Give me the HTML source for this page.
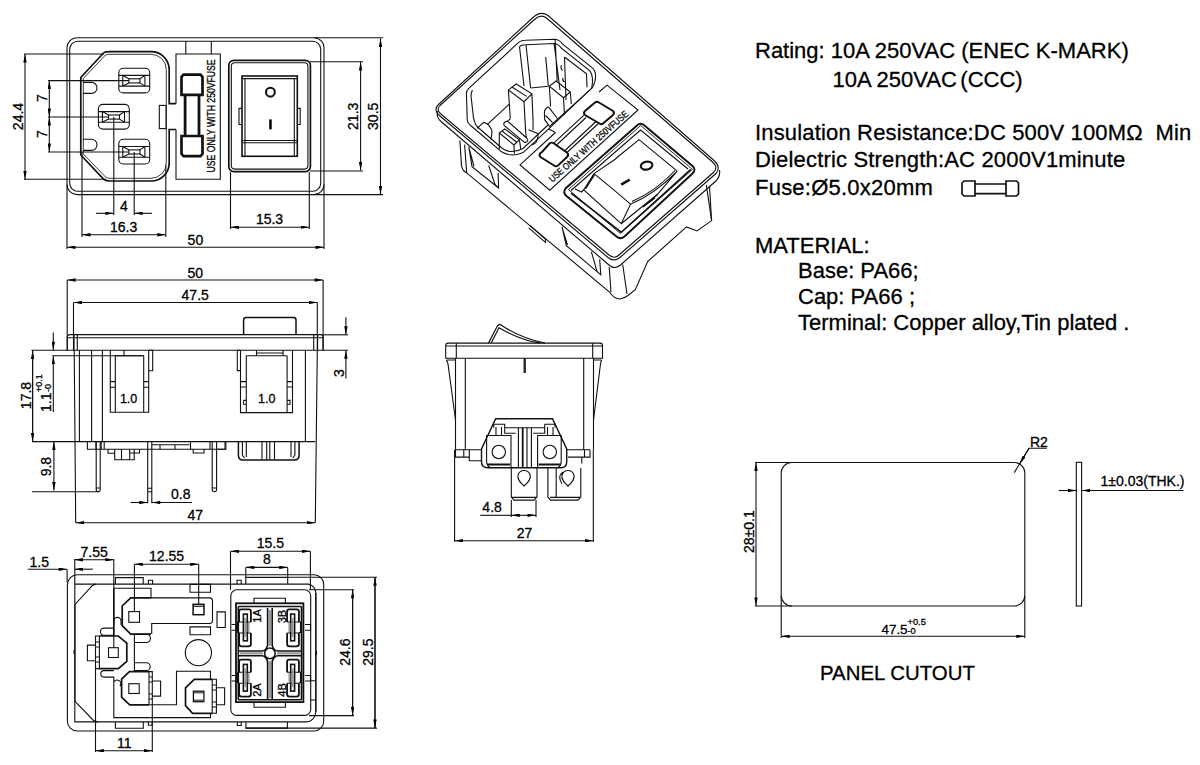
<!DOCTYPE html>
<html><head><meta charset="utf-8"><style>
html,body{margin:0;padding:0;background:#fff;width:1200px;height:765px;overflow:hidden}
svg{display:block;position:absolute;left:0;top:0}
text{font-family:"Liberation Sans",sans-serif;fill:#000;stroke:#000;stroke-width:0.3px}
.t text{font-size:22px}
.dm text{font-size:14px}
</style></head><body>
<svg width="1200" height="765" viewBox="0 0 1200 765">
<defs>
<marker id="a" viewBox="0 0 10 4" refX="10" refY="2" markerWidth="9" markerHeight="3.4" markerUnits="userSpaceOnUse" orient="auto-start-reverse"><path d="M0,0 L10,2 L0,4 z" fill="#000" stroke="none"/></marker>
</defs>
<g fill="none" stroke="#111" stroke-width="1.1">
<!-- ===== PANEL CUTOUT ===== -->
<g id="panel">
<path d="M791.7,462.5 H1014.3 A10.5,10.5 0 0 1 1024.8,473 V595.5 A10.5,10.5 0 0 1 1014.3,606 H791.7 A10.5,10.5 0 0 1 781.2,595.5 V473 A10.5,10.5 0 0 1 791.7,462.5 Z"/>
<path d="M755,462.5 H792 M755,606 H792 M781.2,596 V638 M1024.8,596 V638"/>
<path d="M756,606 V462.5" marker-start="url(#a)" marker-end="url(#a)"/>
<path d="M781.2,636.3 H1024.8" marker-start="url(#a)" marker-end="url(#a)"/>
<path d="M1014.3,472.6 L1029,448.3 H1046.8"/>
<path d="M1029,448.3 L1019.7,463.8" marker-end="url(#a)"/>
<rect x="1076.3" y="462.3" width="5.3" height="143.7"/>
<path d="M1058.7,490.5 H1076.3" marker-end="url(#a)"/>
<path d="M1183.4,490.5 H1081.6" marker-end="url(#a)"/>
<path stroke-width="1.7" d="M964,181 H975 V196 H964 L962,194 V183 Z M1006,181 H1016.5 L1018.5,183 V194 L1016.5,196 H1006 Z M975,184 H1006 M975,193.7 H1006"/>
</g>
<!-- ===== VIEW 1: FRONT ===== -->
<g id="v1">
<rect x="67" y="37.8" width="257" height="156.8" rx="10"/>
<rect x="69.7" y="41.2" width="251" height="150" rx="8"/>
<path d="M314,37.8 H383 M314,194.6 H383 M67,184.6 V249 M324,184.6 V249"/>
<path d="M380.5,38.4 V194.4" marker-start="url(#a)" marker-end="url(#a)"/>
<path d="M310,61.8 H363 M310,171 H363"/>
<path d="M360.6,62 V170.6" marker-start="url(#a)" marker-end="url(#a)"/>
<path d="M67,247.2 H324" marker-start="url(#a)" marker-end="url(#a)"/>
<path d="M230.5,172 V229 M309.3,172 V229"/>
<path d="M230.5,227.2 H309.3" marker-start="url(#a)" marker-end="url(#a)"/>
<path d="M82,152 V237 M165.8,165 V237"/>
<path d="M82,234.8 H165.8" marker-start="url(#a)" marker-end="url(#a)"/>
<path d="M113.8,117 V215 M134.2,152 V215"/>
<path d="M96,213.3 H113.8" marker-end="url(#a)"/>
<path d="M152,213.3 H134.2" marker-end="url(#a)"/>
<path d="M24,54 H104 M24,179.3 H106"/>
<path d="M25,54 V179.3" marker-start="url(#a)" marker-end="url(#a)"/>
<path d="M48,80.6 H129 M48,117 H109 M48,152 H129"/>
<path d="M49.3,80.6 V117" marker-start="url(#a)" marker-end="url(#a)"/>
<path d="M49.3,117 V152" marker-start="url(#a)" marker-end="url(#a)"/>
<!-- inlet -->
<path stroke-width="1.7" d="M104,52.5 Q106,51.6 110,51.6 H151 A18,18 0 0 1 169.2,69.6 V103.7 H176 M176,129.5 H169.2 V163 A18,18 0 0 1 151,181 H110 Q106,181 104,179.5 L80.8,155 V77.5 L104,52.5"/>
<path stroke="#222" stroke-width="0.9" d="M105.5,55 Q107,54.3 110,54.3 H151 A15.3,15.3 0 0 1 166.3,69.6 V163 A15.3,15.3 0 0 1 151,178.3 H110 Q107,178.3 105.5,177 L83.3,154 V78.5 Z"/>
<rect x="159.3" y="105.4" width="6.8" height="23.2"/>
<path d="M83,82.4 H91.5 A5.5,5.5 0 0 1 91.5,93.4 H83 M83,139.3 H91.5 A5.5,5.5 0 0 1 91.5,150.4 H83"/>
<!-- pins -->
<g>
<rect x="118.8" y="68.2" width="30.9" height="24.7" rx="4.5"/>
<path d="M118.8,75.4 H149.7 M118.8,86.1 H149.7 M122.8,75.4 V86.1 M144.9,75.4 V86.1"/>
<rect x="128.9" y="78.8" width="11" height="4.1"/>
<path d="M122.8,75.4 L128.9,78.8 M122.8,86.1 L128.9,82.9 M144.9,75.4 L139.9,78.8 M144.9,86.1 L139.9,82.9"/>
</g>
<g transform="translate(0,71.1)">
<rect x="118.8" y="68.2" width="30.9" height="24.7" rx="4.5"/>
<path d="M118.8,75.4 H149.7 M118.8,86.1 H149.7 M122.8,75.4 V86.1 M144.9,75.4 V86.1"/>
<rect x="128.9" y="78.8" width="11" height="4.1"/>
<path d="M122.8,75.4 L128.9,78.8 M122.8,86.1 L128.9,82.9 M144.9,75.4 L139.9,78.8 M144.9,86.1 L139.9,82.9"/>
</g>
<g transform="translate(-20.4,36.2)">
<rect x="118.8" y="68.2" width="30.9" height="24.7" rx="4.5"/>
<path d="M118.8,75.4 H149.7 M118.8,86.1 H149.7 M122.8,75.4 V86.1 M144.9,75.4 V86.1"/>
<rect x="128.9" y="78.8" width="11" height="4.1"/>
<path d="M122.8,75.4 L128.9,78.8 M122.8,86.1 L128.9,82.9 M144.9,75.4 L139.9,78.8 M144.9,86.1 L139.9,82.9"/>
</g>
<!-- fuse panel -->
<path d="M176,103.7 V54 H220.3 V179.3 H176 V129.5 M185.8,41.2 V54 M211.3,41.2 V54"/>
<path stroke-width="2.8" d="M185.1,94.8 V136 M199,94.8 V136"/>
<path stroke-width="2.7" d="M181.5,94.8 V77 L183.5,74.6 H200.5 L202.5,77 V94.8 Z M181.5,136 V153.8 L183.5,156.2 H200.5 L202.5,153.8 V136 Z"/>
<!-- switch -->
<rect x="228.8" y="60.3" width="81.6" height="111.3" rx="5" stroke-width="1.7"/>
<rect x="231.3" y="62.8" width="76.6" height="106.3" rx="3.5"/>
<rect x="242" y="76" width="55.3" height="80.3" stroke-width="1.6"/>
<path d="M245,78.6 V156 M294.3,78.6 V156 M242,78.6 H297.3 M242,140.5 H297.3 M242,142.8 H297.3"/>
<path d="M242,108.4 H239 V124.5 H242 M297.3,108.4 H300.2 V124.5 H297.3"/>
<circle cx="270.4" cy="92.2" r="4.4" stroke-width="2.1"/>
<rect x="269.2" y="119.4" width="2.5" height="10" fill="#000" stroke="none"/>
</g>
<!-- ===== VIEW 2: SIDE ===== -->
<g id="v2">
<path d="M67.2,280 H323.1" marker-start="url(#a)" marker-end="url(#a)"/>
<path d="M73.5,302.5 H317.3" marker-start="url(#a)" marker-end="url(#a)"/>
<path d="M67.2,280 V350.2 M323.1,280 V350.2 M73.5,302.5 V350.2 M317.3,302.5 V350.2"/>
<!-- flange -->
<path d="M67.3,350.2 V337 Q67.3,334.6 69.8,334.6 H320.6 Q323.1,334.6 323.1,337 V350.2 M67.3,337.7 H323.1 M74,334.6 V350.2 M77.3,334.6 V350.2 M313.7,334.6 V350.2 M317.6,334.6 V350.2"/>
<path d="M31.5,350.2 H348" />
<path d="M53.3,332.5 V350.2" marker-end="url(#a)"/>
<path d="M53.3,412.2 V355.7" marker-end="url(#a)"/>
<path d="M32.6,441.5 V350.5" marker-end="url(#a)"/>
<path d="M32.6,350.5 V441.5" marker-end="url(#a)"/>
<path d="M53.9,441.5 V490.6" marker-start="url(#a)" marker-end="url(#a)"/>
<path d="M345.9,317.3 V334.8" marker-end="url(#a)"/>
<path d="M345.9,378.4 V350.2" marker-end="url(#a)"/>
<path d="M323,334.8 H348"/>
<!-- rocker -->
<path stroke-width="1.5" d="M243.6,334.8 V320 Q243.6,317.6 246,317.6 H293.6 Q296,317.6 296,320 V334.8"/>
<!-- body -->
<path d="M52.3,355.7 H124 M124,350.2 V355.7 M124,355.7 H143.7"/>
<path d="M74.2,350.2 L75.7,522.7 M79.4,350.2 V441.7 M91.6,350.2 V441.7 M102.4,350.2 V441.7"/>
<path d="M317.3,350.2 L315.3,522.7 M305.4,350.2 V441.5"/>
<path d="M32,441.6 H315.3"/>
<!-- window 1 -->
<path d="M110.3,350.2 V412.3 H148.7 V350.2 M115.3,355.7 V412.3 M143.7,355.7 V412.3 M115.3,355.7 H143.7 M148.7,350.2 H152.7 V370.7 H148.7"/>
<path d="M110.3,381.6 H115.3 M110.3,387.3 H115.3 M143.7,381.6 H148.7 M143.7,387.3 H148.7"/>
<!-- window 2 -->
<path d="M240.5,350.2 V412.6 H292.5 V350.2 M246.3,355.7 V412.6 M287.1,355.7 V412.6 M246.3,355.7 H287.1 M240.5,350.2 H237.3 V370.6 H240.5"/>
<path d="M256.5,350.2 V355.7 M283.1,350.2 V355.7 M256.5,353 H283.1"/>
<path d="M240.5,381.6 H246.3 M240.5,387 H246.3 M287.1,381.6 H292.5 M287.1,387 H292.5 M243.5,400.4 H246.3 M243.5,400.4 V404.3 H246.3 M287.1,400.4 H290 V404.3 H287.1"/>
<!-- bottom details -->
<path d="M87.4,441.6 V449.2 H225 V441.6 M96,441.6 V449.2 M101.2,441.6 V449.2 M104.2,441.6 V449.2"/>
<path d="M108,449.2 V453.3 H114.7 M114.7,449.2 V459.7 H134.2 V449.2 M121.5,449.2 V459.7 M129.7,449.2 V459.7 M129.7,453 H139.5 V449.2"/>
<path d="M151.8,444.7 H189.7 M190.5,441.6 V449.2 M210,441.6 V449.2 M193.2,449.2 V453 H204 V449.2 M160,444.7 V449.2 M175,444.7 V449.2"/>
<path d="M96.2,441.6 V489.5 Q96.2,491.7 98.2,491.7 Q100.2,491.7 100.2,489.5 V441.6 M96.2,488 H100.2"/>
<path d="M147.7,441.6 V503.2 M151.8,441.6 V503.2 M147.7,488.2 H151.8 M147.7,491.7 H151.8"/>
<path d="M212.2,441.6 V489.5 Q212.2,491.7 214.4,491.7 Q216.6,491.7 216.6,489.5 V441.6 M212.2,488 H216.6 M216.6,449.2 H225.9 V441.6"/>
<path d="M32,491.7 H99"/>
<path d="M130.5,502.5 H147.7" marker-end="url(#a)"/>
<path d="M192,502.5 H151.8" marker-end="url(#a)"/>
<path d="M75.7,522.7 H315.3" marker-start="url(#a)" marker-end="url(#a)"/>
<!-- terminal block -->
<path stroke-width="1.5" d="M238.4,441.4 V455 Q238.4,460 243,460 H294.5 Q299.1,460 299.1,455 V441.4"/>
<path d="M242.4,441.4 V455 L244.5,458 M246.3,441.4 V457 M262,441.4 V459.4 M266.7,441.4 V459.4 M269.8,441.4 V459.4 M274.5,441.4 V459.4 M291,441.4 V457 M294.9,441.4 V455 L292.8,458"/>
</g>
<!-- ===== VIEW 3: BOTTOM ===== -->
<g id="v3">
<!-- outer body -->
<path d="M77,574.7 H314 A9.7,9.7 0 0 1 323.7,584.4 V721.3 A9.7,9.7 0 0 1 314,731 H77.4 A10,10 0 0 1 67.4,721 V584.7 A10,10 0 0 1 77.4,574.7"/>
<path d="M308.4,584.1 H96 Q94,584.1 92,586 L75,604.5 V701.4 L93,720 Q95,721.9 98,721.9 H306 A9.7,9.7 0 0 0 315.7,712.2 V593 A8.9,8.9 0 0 0 308.4,584.1"/>
<path d="M74.8,559 V721.9 H98 M74.8,584.1 H96"/>
<path d="M245.8,577.3 H377 M245.9,728.1 H377 M316.5,651 V655"/>
<path d="M375,728.1 V577.3" marker-end="url(#a)"/>
<path d="M375,577.3 V728.1" marker-end="url(#a)"/>
<path d="M309,589.8 H354 M309,715.6 H354"/>
<path d="M352.6,715.6 V589.8" marker-end="url(#a)"/>
<path d="M352.6,589.8 V715.6" marker-end="url(#a)"/>
<!-- top dims -->
<path d="M27.8,569.2 H67.1" marker-end="url(#a)"/>
<path d="M92.9,569.2 H74.6" marker-end="url(#a)"/>
<path d="M67.1,569.2 V582"/>
<path d="M74.6,559.8 H113.8" marker-start="url(#a)" marker-end="url(#a)"/>
<path d="M134.4,564.2 H198.7" marker-start="url(#a)" marker-end="url(#a)"/>
<path d="M113.8,559 V647.7 M134.4,564.2 V611.6 M198.7,564.2 V604.3"/>
<path d="M230.5,551.3 H310.4" marker-start="url(#a)" marker-end="url(#a)"/>
<path d="M245.8,567.4 H287.7" marker-start="url(#a)" marker-end="url(#a)"/>
<path d="M230.5,551.3 V589.8 M310.4,551.3 V589.8 M245.8,567.4 V584.1 M287.7,567.4 V584.1"/>
<path d="M245.8,577.5 H287.7"/>
<!-- top small features -->
<path d="M115.4,584.1 V577.6 H143.2 V584.1 M148.4,584.1 V580.2 H152.6 V584.1 M237,584.1 V580.2 H241.2 V584.1"/>
<path d="M115.4,721.9 V728.3 H143.3 V721.9 M148.4,721.9 V725.2 H152.1 V721.9 M237.3,721.9 V725.5 H241.2 V721.9 M245.9,721.9 V728.1 H287.4 V721.9"/>
<path d="M74,650 V654"/>
<!-- inner frame left -->
<path stroke-width="1.5" d="M113.8,588.3 V636"/>
<path d="M113.8,588.3 H151 V597.9"/>
<path d="M190,584.4 H210.5 V592.2 H190 Z M190,626.9 H210.5 V634.7 H190 Z M217,611.9 H225.3 V627.5 H217 Z"/>
<circle cx="198.4" cy="652.7" r="13.1"/>
<!-- terminal 1 -->
<path stroke-width="1.7" d="M151,597.9 H130.7 L122.2,606 V625.6 L130.7,634.1 H151"/>
<path d="M151,597.9 H209.5 Q212.5,597.9 212.5,601 V620.3 Q212.5,623.5 209.5,623.5 H151.7 V634.1"/>
<rect x="128.8" y="611.6" width="10.7" height="10.7"/>
<rect x="193.1" y="604.3" width="10.9" height="10.4" stroke-width="1.5"/>
<path d="M193.1,606.3 H204"/>
<!-- slots -->
<path d="M113.8,625 V621 A3.6,3.6 0 0 1 121,621 V625"/>
<path d="M113.8,628.1 H104 A3.6,3.6 0 0 0 104,635.3 H113.8"/>
<path d="M134.4,634.2 H146.3 A4.15,4.15 0 0 1 146.3,642.5 H134.4 M134.4,662.7 H146.3 A3.95,3.95 0 0 1 146.3,670.6 H134.4 M134.4,634.2 V671.5"/>
<path d="M113.8,670.6 H104 A3.25,3.25 0 0 0 104,677.1 H113.8 V717.6 H210.5 V713.3 M113.8,682 A3.3,3.3 0 0 1 120.3,685.6 L121.6,686"/>
<!-- terminal 2 -->
<path stroke-width="1.7" d="M99.4,636 H118.3 L126.8,643.1 V661.4 L118.3,668.6 H99.4"/>
<path d="M95.5,636 H99.4 V668.6 H95.5 Z M95.5,642 H99.4 M95.5,647 H99.4 M95.5,657 H99.4 M95.5,662 H99.4 M87.4,645.1 H95.5 V660.8 H87.4 Z M95.5,668.6 V752"/>
<rect x="108.5" y="647.7" width="9.8" height="9.8"/>
<!-- terminal 3 -->
<path stroke-width="1.7" d="M149,671.6 H129.4 L121.6,679.1 V697.2 L129.7,704.8 H149"/>
<path d="M149,671.6 H152.3 V704.8 H149 Z M149,677 H152.3 M149,682 H152.3 M149,694 H152.3 M149,699 H152.3 M152.3,681 H160.6 V696.1 H152.3 M152.3,704.8 V752"/>
<rect x="128.8" y="683.7" width="10.4" height="9.8"/>
<path d="M152.3,704.8 H176.5 V671.3 H210.5 V679.3"/>
<!-- terminal 4 -->
<path stroke-width="1.7" d="M212.2,679.3 H194.3 L185.5,687.8 V705.7 L192.6,713.3 H212.2"/>
<path d="M212.2,679.3 H216.4 V713.3 H212.2 Z M212.2,685 H216.4 M212.2,690 H216.4 M212.2,702 H216.4 M212.2,707 H216.4 M216.4,687.8 H224.6 V704.8 H216.4"/>
<rect x="193.4" y="691.2" width="10.5" height="10.5" stroke-width="1.3"/>
<path stroke="#666" stroke-width="1.5" d="M194,692.8 H203.3 M194,700.2 H203.3"/>
<!-- 11 dim -->
<path d="M95.4,750.7 H152.5" marker-start="url(#a)" marker-end="url(#a)"/>
<!-- switch frame -->
<rect x="230.8" y="589.8" width="79.9" height="125.6" rx="6"/>
<path d="M316,593 V712 M231.6,624.5 H236.2 V630.3 H231.6 M305,624.5 H310.5 V630.3 H305 M231.6,675.5 H236.2 V681 H231.6 M305,675.5 H310.5 V681 H305 M310.7,680.8 H316 M310.7,700 H316"/>
<!-- terminal block -->
<rect x="236" y="603.3" width="67.4" height="98.8" stroke-width="1.8"/>
<path d="M254,603.3 V598.2 H285.4 V603.3 M254,702.1 V707.3 H285.4 V702.1"/>
<path stroke-width="1.6" d="M238.3,606.5 H301.5 M238.3,606.5 V699.8 M301.5,606.5 V699.8 M238.3,699.8 H301.5"/>
<path stroke="#999" stroke-width="2.2" d="M269.9,610 V646 M269.9,661 V698 M240,653.4 H263 M277,653.4 H300"/>
<path stroke-width="1.6" d="M267.6,608 V645 Q267.6,647 265.5,649.5 Q263.8,651 262,651 H238.3 M272.2,608 V645 Q272.2,647 274.3,649.5 Q276,651 278,651 H301.5 M267.6,699.8 V662 Q267.6,660 265.5,657.5 Q263.8,655.8 262,655.8 H238.3 M272.2,699.8 V662 Q272.2,660 274.3,657.5 Q276,655.8 278,655.8 H301.5"/>
<circle cx="269.9" cy="653.4" r="5.3" stroke-width="1.5" fill="#fff"/>
<g>
<path stroke-width="1.8" d="M239.1,622 V611.5 Q239.1,609.4 241.2,609.4 H248.8 Q250.9,609.4 250.9,611.5 V622 M239.1,633 V644 Q239.1,646.3 241.5,646.3 H248.5 Q250.9,646.3 250.9,644 V633"/>
<path d="M239.1,622 H237.5 V632.5 H239.1 M239.1,622 H250.9 M239.1,633 H250.9"/>
<rect x="243.4" y="614.1" width="3.9" height="26.7" stroke-width="1.6"/>
<path stroke="#999" stroke-width="2" d="M245.35,618 V637 M248.5,623 V632"/>
</g>
<g transform="translate(538,0) scale(-1,1)">
<path stroke-width="1.8" d="M239.1,622 V611.5 Q239.1,609.4 241.2,609.4 H248.8 Q250.9,609.4 250.9,611.5 V622 M239.1,633 V644 Q239.1,646.3 241.5,646.3 H248.5 Q250.9,646.3 250.9,644 V633"/>
<path d="M239.1,622 H237.5 V632.5 H239.1 M239.1,622 H250.9 M239.1,633 H250.9"/>
<rect x="243.4" y="614.1" width="3.9" height="26.7" stroke-width="1.6"/>
<path stroke="#999" stroke-width="2" d="M245.35,618 V637 M248.5,623 V632"/>
</g>
<g transform="translate(0,50.3)">
<path stroke-width="1.8" d="M239.1,622 V611.5 Q239.1,609.4 241.2,609.4 H248.8 Q250.9,609.4 250.9,611.5 V622 M239.1,633 V644 Q239.1,646.3 241.5,646.3 H248.5 Q250.9,646.3 250.9,644 V633"/>
<path d="M239.1,622 H237.5 V632.5 H239.1 M239.1,622 H250.9 M239.1,633 H250.9"/>
<rect x="243.4" y="614.1" width="3.9" height="26.7" stroke-width="1.6"/>
<path stroke="#999" stroke-width="2" d="M245.35,618 V637 M248.5,623 V632"/>
</g>
<g transform="translate(538,50.3) scale(-1,1)">
<path stroke-width="1.8" d="M239.1,622 V611.5 Q239.1,609.4 241.2,609.4 H248.8 Q250.9,609.4 250.9,611.5 V622 M239.1,633 V644 Q239.1,646.3 241.5,646.3 H248.5 Q250.9,646.3 250.9,644 V633"/>
<path d="M239.1,622 H237.5 V632.5 H239.1 M239.1,622 H250.9 M239.1,633 H250.9"/>
<rect x="243.4" y="614.1" width="3.9" height="26.7" stroke-width="1.6"/>
<path stroke="#999" stroke-width="2" d="M245.35,618 V637 M248.5,623 V632"/>
</g>
</g>
<!-- ===== VIEW 4: 3D ===== -->
<g id="v4">
<!-- flange top face -->
<path d="M533,17.5 Q540.5,10.5 548,15.5 L713.5,160 Q721.5,167 716,173.5 L620.5,257 Q614.4,262.5 608,257.5 L440.5,116.5 Q432.5,110.5 438.5,104.5 Z"/>
<path d="M534.5,19.5 Q540.5,13.5 546.5,18 L712,161.5 Q718.5,167 714,172 L619,255 Q614.4,259.5 609,255 L442,115 Q435.5,110.5 440,105.5 Z"/>
<path d="M437.5,111 Q436,117 441,121.5 L609,265 Q614.4,270 620.5,265 L716.5,180.5 Q720.5,176 719.5,170"/>
<!-- body -->
<path d="M459.9,140.5 L461.5,165.6 Q462.5,171 466.7,172.9 L609.5,292 Q614,299 620,299 Q624,298.5 628,295.5 L635.3,289.6 L647.8,261.4 L686.5,226.9 L697,231 L711.6,220.6 L709.5,186.1"/>
<path d="M464.6,144.6 L466.7,172.9 M609.2,267 L611,292 M622.7,264.5 L627,293.8 M706.3,184.8 L711.6,220.6"/>
<!-- windows -->
<path d="M468.8,146.7 L472,166.6 L498.6,188 L498.1,172.9 M468.8,147 L474,166.5 M488.7,165.5 L495,184.5 L498.6,188"/>
<path d="M562,226.7 L566.3,245.6 L600.8,274.8 L599.7,259.2 M562.1,227.5 L567.5,245 M591.4,251.8 L597,271.5 L600.8,274.8"/>
<path d="M528.7,227.8 L545.4,242.4 L545.4,239 L530,225.5"/>
<!-- inlet opening -->
<path d="M517.5,43.5 Q520,40.2 525.4,40.2 L555.1,39.2 Q559.5,39.5 562.4,43.9 L591.7,67.4 Q599,73 592.7,87.3 L548.7,128.9 L523.1,152.6 Q516,156 508.4,154.5 Q502,153 499.3,149.9 L471.8,126.5 Q467,123 467.2,118.7 L466.5,95.1 Q466,91 468.5,88.6 Z"/>
<path d="M519.5,46.8 Q521,44.8 526,44.8 L554.1,43.5 Q558.5,44 561.4,48.1 L589.6,70.6 Q594,76 591.7,88.3 L549,127 M472.4,89.9 Q471,93 471,96 L473,113.4 Q473.5,122 477,126.5 L500,146.5 Q505,151 510,151.5 Q517,152 523,148.5 L548,125"/>
<path d="M519.5,46.8 L524,86 M526,44.8 L530.6,88 M530.6,88 L548.3,86.2 M545.7,57 L548.3,86.2 M555.1,39.2 L557.2,81 M554.1,43.5 L560,90"/>
<path d="M564.5,57 L586.5,73.7 L587,87.3 M564.5,57 L566,100 M561.5,65 Q560,68 562.5,70.5 M563,78 Q562,81 564.5,82"/>
<path d="M487.4,124.3 L509.3,104.1"/>
<path d="M476.9,128.4 L483.7,122.4 Q490,124 492,131.6 L491,139.8"/>
<!-- pins -->
<path d="M508.4,89.9 L516.2,84 L531.9,93.8 L524,101.7 Z M512.3,87.3 L526.7,96.4 M508.4,89.9 L510.3,118.8 M524,101.7 L525.8,134.3 M531.9,93.8 L533.1,121.5"/>
<path d="M507.5,121.1 L526.7,138 Q529.5,141.5 524.9,142.6 L504.3,125.6 Q502.5,122 507.5,121.1 Z M510.3,118.8 L507.5,121.1 M525.8,134.3 L526.7,138"/>
<path d="M499.3,133 L504.8,128.9 L519.4,139.8 L513.9,144.9 Z M499.3,133 L499.3,149 M513.9,144.9 L514.4,153.6 M519.4,139.8 L520.8,149 M502,131 L516.5,142"/>
<path d="M549.3,86.2 L556.1,81 L570.3,92 L563.5,97.7 Z M549.3,86.2 L550.6,106.5 M563.5,97.7 L564.5,115 M570.3,92 L571.3,104 M548.5,106.8 L557.4,118.5 M548.5,106.8 Q544,109.5 544.4,113 L544.7,119.7 L549.1,125.6 M545.5,115.5 L552.6,122.6"/>
<path d="M528.6,129.8 L537.7,133.4 Q539,136 535.9,142.6 L532,145 M533.1,121.5 L533,130"/>
<!-- fuse panel -->
<path d="M555.5,132.5 L520,164.9 L549.8,190.2 L638,110 L607,85.1 L599,92 M548.7,128.9 L555.5,132.5"/>
<path stroke-width="1.9" d="M542,152 L550,143 Q552.2,142 554,143.5 L567.5,153 Q569,155 567,157 L558,165.5 Q556,167 554,165.5 L540.5,157 Q538.5,155 540.5,153 Z"/>
<path stroke-width="1.9" d="M585,111 L595,102.5 Q597,101 599,102.5 L613,111 Q615,113 613,115 L603,123.5 Q601.5,125 599.5,123.5 L585,115 Q583,113 585,111 Z"/>
<path d="M553.7,143.1 L584.3,114.9 M567,152.5 L598.4,123.5 M556,145.5 L586,117.5 M565,150.5 L596,121.5"/>
<!-- switch frame -->
<path stroke-width="1.9" d="M565.5,188.5 Q562.5,192.5 566.5,196 L616.5,236.5 Q620.3,240 624.5,236.5 L692.5,173.5 Q696.5,169.4 692.5,166 L644.5,125.5 Q640.7,122 637,125.5 Z"/>
<path stroke-width="0.9" d="M568.5,189.5 L620.3,233.5 L692.5,169.4 L640.7,125.5 Z"/>
<path stroke-width="1.5" d="M571,193.2 L621.2,232.2 L690.8,169.4"/>
<path d="M571,190.5 L640.5,130 L688,169"/>
<!-- rocker -->
<path d="M594,173.6 L615.2,159.2 L617,157.5 L639,139.6 L677.2,171.1 M594,173.6 Q612,188 630.5,204.2 M630.5,204.2 Q655,194 677.2,171.1 M632,201.5 Q656,191 675,170.5 M594,173.6 L583.8,189.8 L621.2,223.7 L630.5,204.2 M585.5,189 L594.5,175 M621.2,223.7 L657.7,194 L677.2,171.1 M645.8,204.2 L657.7,194.5 M643,207 L655,198"/>
<path d="M584,189.5 L581.5,192 L575,189"/>
<ellipse cx="646.6" cy="165.6" rx="5.9" ry="3.9" transform="rotate(-12 646.6 165.6)" stroke-width="2.1"/>
<path stroke-width="2.6" d="M621.2,184.7 L629.7,179.6"/>
</g>
<!-- ===== VIEW 5: SWITCH SIDE ===== -->
<g id="v5">
<path d="M445.7,358.3 V345.5 Q445.7,343.1 448,343.1 H600.2 Q602.5,343.1 602.5,345.5 V358.3 Z M445.7,346 H602.5 M456.3,343.1 V358.3 M592.7,343.1 V358.3"/>
<path stroke-width="1.2" d="M488.5,343.1 L497.5,325.8 Q499,323.7 501,325 Q520,338 545,343.1 M491.2,343.1 L499,327.8 Q521,340.5 540,343.1"/>
<path d="M455.5,358.3 V449.8 M465.3,358.3 V449.8 M583.7,358.3 V449.8 M593.5,358.3 V449.8"/>
<path d="M446.5,360 L448,364 L455.5,420 M446.5,360 H455.5 M601.5,360 L600.5,364 L593.5,420 M601.5,360 H593.5"/>
<path d="M524.1,358.3 V373 M525.3,358.3 V373"/>
<path d="M455.5,449.8 H481.5 M566.7,449.8 H590 M455.5,449.8 V457.1 H469.3 V449.8 M463.8,449.8 V457.1 M469.3,457.1 V460.8 H481.5 M568,457.1 H590 V449.8 M584.5,449.8 V457.1 M581.8,457.1 V463.5"/>
<!-- terminal block -->
<path stroke-width="1.4" d="M495.7,418.7 H552.5 L566.7,448.9 V462 Q566.7,467.7 561,467.7 H488 Q481.5,467.7 481.5,462 V448.9 Z"/>
<path d="M493.7,427.5 V424.2 H504.7 V433.2 H515.7 M504.7,427.7 H544.7 M544.7,424.2 H555 V427.5 M544.7,424.2 V433.2 H533 M486.6,448 V435.5 H511 V467.7 M537.6,467.7 V435.5 H561.2 V448 M496,427 V435.5 M501.5,427 V435.5 M547.5,427 V435.5 M553,427 V435.5 M518.4,427.7 V467.7 M527,427.7 V467.7 M531.4,427.7 V467.7 M486.6,448 V462 Q487,466 490,467.7 M561.2,448 V462 Q561,466 558,467.7"/>
<path stroke-width="1.8" d="M522.7,427.7 V467.7 M487.5,464.5 H510 M538.5,464.5 H560.5"/>
<circle cx="498.8" cy="452" r="6.7"/>
<circle cx="549.8" cy="452" r="6.7"/>
<!-- quick connect tabs -->
<path d="M511.3,468.1 V497 L514,500.1 H534 L537,497 V468.1 M511.3,497.4 H537"/>
<path d="M524.1,486 Q517,480 518,475 Q519.5,470.5 524.1,470.5 Q528.7,470.5 530.2,475 Q531.2,480 524.1,486 Z"/>
<path d="M547.9,468.1 V497 L550.5,500.1 H578 L580.8,497 V468.1 M556.2,468.1 V497 M550,497.4 H580"/>
<path d="M568,486 Q561,480 562,475 Q563.5,470.5 568,470.5 Q572.5,470.5 574,475 Q575,480 568,486 Z M563,472 Q557,476 562,484"/>
<!-- dims -->
<path d="M511.3,500 V517 M536,500 V517 M454.6,449.8 V542 M593.3,449.8 V542"/>
<path d="M480.2,515.3 H511.3"/>
<path d="M524,515.3 H511.3" marker-end="url(#a)"/>
<path d="M524,515.3 H536" marker-end="url(#a)"/>
<path d="M454.6,540.7 H593.3" marker-start="url(#a)" marker-end="url(#a)"/>
</g>
</g>
<g class="t">
<text x="755" y="57.7">Rating: 10A 250VAC (ENEC K-MARK)</text>
<text x="832.5" y="86.8">10A 250VAC<tspan dx="3.5">(CCC)</tspan></text>
<text x="755" y="139.6" xml:space="preserve" textLength="436.2" lengthAdjust="spacing">Insulation Resistance:DC 500V 100MΩ  Min</text>
<text x="755" y="167" textLength="370.2" lengthAdjust="spacing">Dielectric Strength:AC 2000V1minute</text>
<text x="755" y="194.7" textLength="177.8" lengthAdjust="spacing">Fuse:Ø5.0x20mm</text>
<text x="755" y="252.5">MATERIAL:</text>
<text x="798" y="278.3">Base: PA66;</text>
<text x="798" y="304.2">Cap: PA66 ;</text>
<text x="798" y="330.3">Terminal: Copper alloy,Tin plated .</text>
</g>
<text x="820" y="679.7" style="font-size:20.4px">PANEL CUTOUT</text>
<g class="dm">
<text x="1030" y="446.5">R2</text>
<text x="1100.5" y="485.5">1±0.03(THK.)</text>
<text x="881.5" y="633.9" style="font-size:13.4px">47.5</text>
<text x="907.5" y="634.2" style="font-size:9.3px">-0</text>
<text x="907.5" y="624.6" style="font-size:9.3px">+0.5</text>
<text x="754" y="553" transform="rotate(-90 754 553)">28±0.1</text>
</g>
<g class="dm">
<text x="23" y="116.5" text-anchor="middle" transform="rotate(-90 23 116.5)">24.4</text>
<text x="46.7" y="98.2" text-anchor="middle" transform="rotate(-90 46.7 98.2)">7</text>
<text x="46.7" y="134.2" text-anchor="middle" transform="rotate(-90 46.7 134.2)">7</text>
<text x="358.5" y="116.3" text-anchor="middle" transform="rotate(-90 358.5 116.3)">21.3</text>
<text x="378.5" y="116.3" text-anchor="middle" transform="rotate(-90 378.5 116.3)">30.5</text>
<text x="124" y="210.7" text-anchor="middle">4</text>
<text x="123.6" y="232" text-anchor="middle">16.3</text>
<text x="195.4" y="245" text-anchor="middle">50</text>
<text x="269.5" y="224.3" text-anchor="middle">15.3</text>
<text x="215.2" y="115.9" text-anchor="middle" transform="rotate(-90 215.2 115.9)" style="font-size:10.5px" textLength="113" lengthAdjust="spacingAndGlyphs">USE ONLY WITH 250VFUSE</text>
</g>
<g class="dm">
<text x="195.2" y="277.5" text-anchor="middle">50</text>
<text x="195.2" y="300" text-anchor="middle">47.5</text>
<text x="30.9" y="395.5" text-anchor="middle" transform="rotate(-90 30.9 395.5)">17.8</text>
<text x="50.8" y="402.2" text-anchor="middle" transform="rotate(-90 50.8 402.2)">1.1</text>
<text x="51" y="388" text-anchor="middle" transform="rotate(-90 51 388)" style="font-size:9px">-0</text>
<text x="42.4" y="383" text-anchor="middle" transform="rotate(-90 42.4 383)" style="font-size:9px">+0.1</text>
<text x="50.8" y="466.6" text-anchor="middle" transform="rotate(-90 50.8 466.6)">9.8</text>
<text x="343.5" y="373" text-anchor="middle" transform="rotate(-90 343.5 373)">3</text>
<text x="128.6" y="402.7" text-anchor="middle" style="font-size:12.5px">1.0</text>
<text x="266.7" y="402.7" text-anchor="middle" style="font-size:12.5px">1.0</text>
<text x="180.7" y="499.2" text-anchor="middle">0.8</text>
<text x="195.3" y="519.7" text-anchor="middle">47</text>
</g>
<g class="dm">
<text x="39.2" y="566.9" text-anchor="middle">1.5</text>
<text x="94.1" y="557" text-anchor="middle">7.55</text>
<text x="166.6" y="561.4" text-anchor="middle">12.55</text>
<text x="270.3" y="548.4" text-anchor="middle">15.5</text>
<text x="266.8" y="564.3" text-anchor="middle">8</text>
<text x="124.2" y="748.2" text-anchor="middle">11</text>
<text x="350.3" y="652.2" text-anchor="middle" transform="rotate(-90 350.3 652.2)">24.6</text>
<text x="373.5" y="652.2" text-anchor="middle" transform="rotate(-90 373.5 652.2)">29.5</text>
</g>
<g style="font-size:11px">
<text x="261.4" y="615.9" text-anchor="middle" transform="rotate(-90 261.4 615.9)">1A</text>
<text x="286.1" y="616.6" text-anchor="middle" transform="rotate(-90 286.1 616.6)">3B</text>
<text x="261.4" y="690" text-anchor="middle" transform="rotate(-90 261.4 690)">2A</text>
<text x="286.1" y="690" text-anchor="middle" transform="rotate(-90 286.1 690)">4B</text>
</g>
<text x="0" y="0" style="font-size:9.6px" transform="translate(552.5,182.8) rotate(-41.6)" textLength="102" lengthAdjust="spacingAndGlyphs">USE ONLY WITH 250VFUSE</text>
<g class="dm">
<text x="492.1" y="512" text-anchor="middle">4.8</text>
<text x="524.6" y="537.6" text-anchor="middle">27</text>
</g>
</svg>
</body></html>
